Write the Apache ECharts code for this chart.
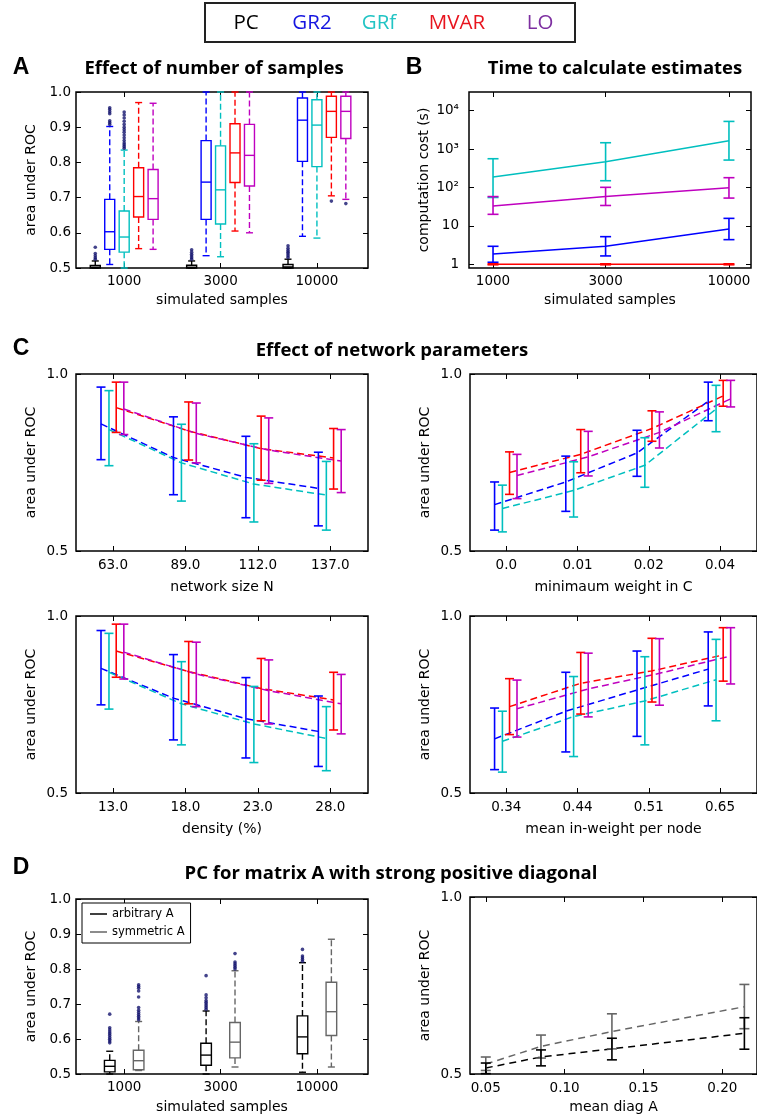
<!DOCTYPE html>
<html><head><meta charset="utf-8">
<script src="https://cdn.jsdelivr.net/npm/echarts@6/dist/echarts.min.js"></script>
<style>html,body{margin:0;padding:0;background:#fff}#c{width:757px;height:1120px}</style>
</head><body><div id="c"></div>
<script>
// ---------------- DATA ----------------
const methods = ['PC', 'GR2', 'GRf', 'MVAR', 'LO'];
const sampleLabels = ['1000', '3000', '10000'];

// Panel A: per sample size [low whisker, Q1, median, Q3, high whisker]
const aPC   = [[0.5, 0.5, 0.502, 0.507, 0.52], [0.5, 0.5, 0.502, 0.508, 0.52], [0.5, 0.5, 0.503, 0.51, 0.525]];
const aGR2  = [[0.51, 0.553, 0.603, 0.695, 0.902], [0.535, 0.638, 0.744, 0.862, 1.0], [0.59, 0.803, 0.92, 0.983, 1.0]];
const aGRf  = [[0.5, 0.545, 0.588, 0.662, 0.835], [0.532, 0.625, 0.722, 0.847, 1.0], [0.585, 0.788, 0.906, 0.978, 1.0]];
const aMVAR = [[0.555, 0.645, 0.703, 0.785, 0.97], [0.605, 0.743, 0.827, 0.91, 1.0], [0.705, 0.871, 0.945, 0.988, 1.0]];
const aLO   = [[0.553, 0.638, 0.697, 0.78, 0.968], [0.6, 0.733, 0.82, 0.908, 1.0], [0.695, 0.868, 0.945, 0.988, 1.0]];
// Panel A outliers per sample size
const aPCOut   = [[0.525, 0.529, 0.535, 0.541, 0.559], [0.525, 0.529, 0.534, 0.539, 0.545, 0.552], [0.53, 0.535, 0.54, 0.545, 0.55, 0.556, 0.563]];
const aGR2Out  = [[0.908, 0.913, 0.918, 0.938, 0.944, 0.95, 0.955], [], []];
const aGRfOut  = [[0.84, 0.845, 0.85, 0.855, 0.862, 0.87, 0.878, 0.886, 0.893, 0.9, 0.908, 0.917, 0.926, 0.935, 0.943], [], []];
const aMVAROut = [[], [], [0.69]];
const aLOOut   = [[], [], [0.683]];

// Panel B: computation cost (s)
const bSamples = [1000, 3000, 10000];
const bGR2  = [[1.86, 2.94, 8.3], [1.13, 1.65, 4.38], [2.94, 5.24, 15.7]];     // [mean, low, high]
const bGRf  = [[187, 469, 1650], [55, 150, 518], [561, 1465, 5260]];
const bMVAR = [[1.0, 1.0, 1.0], [0.97, 0.97, 0.97], [1.03, 1.03, 1.03]];
const bLO   = [[33, 58, 99], [20, 34, 53], [58, 101, 180]];
const bTicks = [1, 10, 100, 1000, 10000];

// Panel C: [mean, low, high] for each of 4 parameter values
const cSizeLabels = ['63.0', '89.0', '112.0', '137.0'];
const c1GR2  = [[0.859, 0.764, 0.708, 0.677], [0.758, 0.659, 0.594, 0.571], [0.963, 0.879, 0.824, 0.779]];
const c1GRf  = [[0.843, 0.749, 0.689, 0.658], [0.741, 0.641, 0.582, 0.559], [0.953, 0.858, 0.803, 0.753]];
const c1MVAR = [[0.905, 0.839, 0.789, 0.763], [0.835, 0.757, 0.70, 0.675], [0.977, 0.921, 0.881, 0.846]];
const c1LO   = [[0.901, 0.832, 0.785, 0.754], [0.829, 0.749, 0.691, 0.665], [0.977, 0.918, 0.876, 0.843]];

const cWeightLabels = ['0.0', '0.01', '0.02', '0.04'];
const c2GR2  = [[0.631, 0.695, 0.777, 0.923], [0.559, 0.612, 0.711, 0.868], [0.695, 0.768, 0.841, 0.977]];
const c2GRf  = [[0.620, 0.671, 0.742, 0.901], [0.554, 0.596, 0.68, 0.837], [0.686, 0.752, 0.82, 0.968]];
const c2MVAR = [[0.722, 0.773, 0.846, 0.938], [0.66, 0.721, 0.81, 0.909], [0.78, 0.843, 0.896, 0.982]];
const c2LO   = [[0.713, 0.766, 0.835, 0.930], [0.648, 0.712, 0.791, 0.907], [0.773, 0.838, 0.893, 0.982]];

const cDensityLabels = ['13.0', '18.0', '23.0', '28.0'];
const c3GR2  = [[0.852, 0.768, 0.71, 0.674], [0.749, 0.65, 0.599, 0.575], [0.959, 0.891, 0.826, 0.774]];
const c3GRf  = [[0.841, 0.752, 0.695, 0.654], [0.737, 0.636, 0.586, 0.563], [0.951, 0.871, 0.801, 0.744]];
const c3MVAR = [[0.901, 0.843, 0.795, 0.763], [0.827, 0.752, 0.704, 0.678], [0.977, 0.928, 0.88, 0.841]];
const c3LO   = [[0.898, 0.836, 0.789, 0.752], [0.822, 0.744, 0.695, 0.667], [0.977, 0.926, 0.876, 0.835]];

const cInWeightLabels = ['0.34', '0.44', '0.51', '0.65'];
const c4GR2  = [[0.653, 0.731, 0.791, 0.85], [0.566, 0.616, 0.66, 0.746], [0.74, 0.841, 0.901, 0.955]];
const c4GRf  = [[0.646, 0.716, 0.76, 0.82], [0.559, 0.603, 0.636, 0.704], [0.731, 0.829, 0.885, 0.934]];
const c4MVAR = [[0.744, 0.81, 0.845, 0.89], [0.665, 0.723, 0.757, 0.816], [0.823, 0.897, 0.937, 0.967]];
const c4LO   = [[0.738, 0.794, 0.838, 0.887], [0.658, 0.715, 0.748, 0.808], [0.819, 0.895, 0.936, 0.967]];

// Panel D left: PC boxplots, [low, Q1, median, Q3, high]
const dArbitrary = [[0.5, 0.506, 0.522, 0.539, 0.565], [0.5, 0.525, 0.554, 0.588, 0.68], [0.505, 0.558, 0.606, 0.666, 0.818]];
const dSymmetric = [[0.51, 0.512, 0.538, 0.568, 0.65], [0.52, 0.546, 0.591, 0.647, 0.795], [0.52, 0.61, 0.678, 0.762, 0.885]];
const dArbitraryOut = [[0.589, 0.594, 0.599, 0.604, 0.61, 0.615, 0.62, 0.626, 0.632, 0.671], [0.685, 0.69, 0.695, 0.70, 0.705, 0.71, 0.718, 0.726, 0.781], [0.822, 0.827, 0.832, 0.837, 0.856]];
const dSymmetricOut = [[0.655, 0.66, 0.665, 0.67, 0.676, 0.682, 0.69, 0.72, 0.737, 0.745, 0.75, 0.755], [0.80, 0.805, 0.81, 0.815, 0.82, 0.844], []];
// Panel D right: mean diag A vs AUC [mean, low, high]
const dDiag = [0.05, 0.085, 0.13, 0.214];
const dDiagTicks = [0.05, 0.10, 0.15, 0.20];
const d2Arbitrary = [[0.517, 0.548, 0.571, 0.615], [0.501, 0.523, 0.54, 0.57], [0.531, 0.568, 0.601, 0.659]];
const d2Symmetric = [[0.528, 0.578, 0.62, 0.69], [0.51, 0.545, 0.571, 0.628], [0.548, 0.61, 0.67, 0.753]];

// ---------------- STYLE ----------------
const COL = { PC: '#000000', GR2: '#0000ff', GRf: '#00bfbf', MVAR: '#ff0000', LO: '#bf00bf' };
const LEGCOL = { PC: '#000000', GR2: '#1515e0', GRf: '#22c4c4', MVAR: '#e8141e', LO: '#7d2fa0' };
const GRAY = '#666666';
const FLIER = '#14146e';
const AXF = 'DejaVu Sans';

const grid = [], xAxis = [], yAxis = [], series = [];

function tick(cv) {
  const t = { show: true, inside: true, length: 5, lineStyle: { color: '#000', width: 1 } };
  if (cv) t.customValues = cv;
  return t;
}
function axisPair(list, gi, o, isX) {
  const base = { gridIndex: gi, type: o.type || 'value', min: o.min, max: o.max, splitLine: { show: false },
    axisLine: { show: false }, scale: true };
  if (o.type === 'log') base.logBase = 10;
  if (o.interval != null) base.interval = o.interval;
  const lab = { show: true, color: '#000', fontFamily: AXF, fontSize: 13.5, margin: o.margin, formatter: o.fmt };
  if (o.ticks) lab.customValues = o.ticks;
  list.push(Object.assign({}, base, {
    position: isX ? 'bottom' : 'left', axisTick: tick(o.ticks), axisLabel: lab,
    name: o.name, nameLocation: 'middle', nameGap: o.gap,
    nameTextStyle: { color: '#000', fontFamily: AXF, fontSize: 14 }
  }));
  list.push(Object.assign({}, base, { position: isX ? 'top' : 'right', axisTick: tick(o.ticks), axisLabel: { show: false } }));
  return list.length - 2;
}
function panel(box, xo, yo) {
  const gi = grid.length;
  grid.push({ left: box[0], top: box[1], width: box[2], height: box[3], show: true,
    borderColor: '#000', borderWidth: 1.5, backgroundColor: 'rgba(0,0,0,0)' });
  return { xi: axisPair(xAxis, gi, xo, true), yi: axisPair(yAxis, gi, yo, false) };
}

function boxSeries(ax, name, color, rows, off, hw, cw) {
  return {
    type: 'custom', name: name, xAxisIndex: ax.xi, yAxisIndex: ax.yi, silent: true,
    itemStyle: { color: color }, encode: { x: 0, y: [1, 2, 3, 4, 5] },
    data: rows.map((r, i) => [i + 1 + off].concat(r)),
    renderItem: (p, api) => {
      const x = api.value(0);
      const pt = k => api.coord([x, api.value(k)]);
      const lo = pt(1), q1 = pt(2), md = pt(3), q3 = pt(4), hi = pt(5);
      const cx = lo[0];
      const s = { stroke: color, lineWidth: 1.4, fill: null };
      const d = { stroke: color, lineWidth: 1.4, lineDash: [6, 3] };
      return { type: 'group', children: [
        { type: 'line', shape: { x1: cx, y1: q3[1], x2: cx, y2: hi[1] }, style: d },
        { type: 'line', shape: { x1: cx, y1: q1[1], x2: cx, y2: lo[1] }, style: d },
        { type: 'line', shape: { x1: cx - cw, y1: hi[1], x2: cx + cw, y2: hi[1] }, style: s },
        { type: 'line', shape: { x1: cx - cw, y1: lo[1], x2: cx + cw, y2: lo[1] }, style: s },
        { type: 'rect', shape: { x: cx - hw, y: q3[1], width: 2 * hw, height: q1[1] - q3[1] }, style: { stroke: color, lineWidth: 1.4, fill: 'none' } },
        { type: 'line', shape: { x1: cx - hw, y1: md[1], x2: cx + hw, y2: md[1] }, style: s }
      ] };
    }
  };
}
function flierSeries(ax, outs, off) {
  const data = [];
  outs.forEach((arr, i) => arr.forEach(v => data.push([i + 1 + off, v])));
  return { type: 'scatter', xAxisIndex: ax.xi, yAxisIndex: ax.yi, data: data, symbol: 'circle', symbolSize: 3.6,
    itemStyle: { color: FLIER }, silent: true, z: 5 };
}
function errSeries(ax, color, xs, lows, highs, cw) {
  return {
    type: 'custom', xAxisIndex: ax.xi, yAxisIndex: ax.yi, silent: true, z: 4,
    encode: { x: 0, y: [1, 2] },
    data: xs.map((x, i) => [x, lows[i], highs[i]]),
    renderItem: (p, api) => {
      const x = api.value(0);
      const a = api.coord([x, api.value(1)]), b = api.coord([x, api.value(2)]);
      const s = { stroke: color, lineWidth: 1.6, fill: null };
      return { type: 'group', children: [
        { type: 'line', shape: { x1: a[0], y1: a[1], x2: b[0], y2: b[1] }, style: s },
        { type: 'line', shape: { x1: a[0] - cw, y1: a[1], x2: a[0] + cw, y2: a[1] }, style: s },
        { type: 'line', shape: { x1: b[0] - cw, y1: b[1], x2: b[0] + cw, y2: b[1] }, style: s }
      ] };
    }
  };
}
function lineSeries(ax, color, xs, vals, dash) {
  return { type: 'line', xAxisIndex: ax.xi, yAxisIndex: ax.yi, data: xs.map((x, i) => [x, vals[i]]),
    symbol: 'none', showSymbol: false, silent: true, z: 3,
    lineStyle: { color: color, width: 1.5, type: dash || 'solid' } };
}

// ---------------- PANEL A ----------------
const catFmt = labels => (v => labels[Math.round(v) - 1] || '');
const pA = panel([76, 92, 292, 176],
  { min: 0.5, max: 3.53, ticks: [1, 2, 3], fmt: catFmt(sampleLabels), margin: 6, name: 'simulated samples', gap: 25 },
  { min: 0.5, max: 1.0, interval: 0.1, fmt: v => v.toFixed(1), margin: 5, name: 'area under ROC', gap: 38 });
const aOffsets = [-0.3, -0.15, 0, 0.15, 0.3];
const aBoxes = [aPC, aGR2, aGRf, aMVAR, aLO];
const aOuts = [aPCOut, aGR2Out, aGRfOut, aMVAROut, aLOOut];
methods.forEach((m, k) => {
  series.push(boxSeries(pA, m, COL[m], aBoxes[k], aOffsets[k], 5, 3.5));
  series.push(flierSeries(pA, aOuts[k], aOffsets[k]));
});

// ---------------- PANEL B ----------------
const sup = { 2: '\u00b2', 3: '\u00b3', 4: '\u2074' };
const pB = panel([469, 92, 282, 176],
  { type: 'log', min: 791, max: 12400, ticks: bSamples, fmt: v => String(Math.round(v)), margin: 6, name: 'simulated samples', gap: 25 },
  { type: 'log', min: 0.8, max: 30700, ticks: bTicks, fmt: v => { const e = Math.round(Math.log10(v)); return e < 2 ? String(Math.round(v)) : '10' + sup[e]; }, margin: 10, name: 'computation cost (s)', gap: 38 });
[['GRf', bGRf], ['LO', bLO], ['GR2', bGR2], ['MVAR', bMVAR]].forEach(([m, d]) => {
  series.push(lineSeries(pB, COL[m], bSamples, d[0]));
  series.push(errSeries(pB, COL[m], bSamples, d[1], d[2], 5.5));
});

// ---------------- PANEL C ----------------
const cOffsets = { GR2: -0.165, GRf: -0.055, MVAR: 0.045, LO: 0.15 };
const cY = { min: 0.5, max: 1.0, interval: 0.5, fmt: v => v.toFixed(1), margin: 8, name: 'area under ROC', gap: 38 };
function cPanel(box, labels, xname, sets) {
  const ax = panel(box, { min: 0.49, max: 4.52, ticks: [1, 2, 3, 4], fmt: catFmt(labels), margin: 7, name: xname, gap: 29 }, cY);
  sets.forEach(([m, d]) => {
    const xs = [1, 2, 3, 4].map(g => g + cOffsets[m]);
    series.push(lineSeries(ax, COL[m], xs, d[0], [7, 4]));
    series.push(errSeries(ax, COL[m], xs, d[1], d[2], 4.5));
  });
}
cPanel([76, 374, 292, 177], cSizeLabels, 'network size N', [['GR2', c1GR2], ['GRf', c1GRf], ['MVAR', c1MVAR], ['LO', c1LO]]);
cPanel([470, 374, 292, 177], cWeightLabels, 'minimaum weight in C', [['GR2', c2GR2], ['GRf', c2GRf], ['MVAR', c2MVAR], ['LO', c2LO]]);
cPanel([76, 616, 292, 177], cDensityLabels, 'density (%)', [['GR2', c3GR2], ['GRf', c3GRf], ['MVAR', c3MVAR], ['LO', c3LO]]);
cPanel([470, 616, 292, 177], cInWeightLabels, 'mean in-weight per node', [['GR2', c4GR2], ['GRf', c4GRf], ['MVAR', c4MVAR], ['LO', c4LO]]);

// ---------------- PANEL D ----------------
const pD1 = panel([76, 899, 292, 175],
  { min: 0.5, max: 3.53, ticks: [1, 2, 3], fmt: catFmt(sampleLabels), margin: 6, name: 'simulated samples', gap: 26 },
  { min: 0.5, max: 1.0, interval: 0.1, fmt: v => v.toFixed(1), margin: 5, name: 'area under ROC', gap: 38 });
series.push(boxSeries(pD1, 'arbitrary A', '#000000', dArbitrary, -0.15, 5.3, 3.5));
series.push(flierSeries(pD1, dArbitraryOut, -0.15));
series.push(boxSeries(pD1, 'symmetric A', GRAY, dSymmetric, 0.15, 5.3, 3.5));
series.push(flierSeries(pD1, dSymmetricOut, 0.15));

const pD2 = panel([470, 897, 292, 177],
  { min: 0.04, max: 0.222, ticks: dDiagTicks, fmt: v => v.toFixed(2), margin: 7, name: 'mean diag A', gap: 26 },
  { min: 0.5, max: 1.0, interval: 0.5, fmt: v => v.toFixed(1), margin: 8, name: 'area under ROC', gap: 38 });
series.push(lineSeries(pD2, GRAY, dDiag, d2Symmetric[0], [7, 5]));
series.push(errSeries(pD2, GRAY, dDiag, d2Symmetric[1], d2Symmetric[2], 5));
series.push(lineSeries(pD2, '#000000', dDiag, d2Arbitrary[0], [7, 5]));
series.push(errSeries(pD2, '#000000', dDiag, d2Arbitrary[1], d2Arbitrary[2], 5));

// ---------------- TEXT ----------------
const TF = '"Open Sans", "Liberation Sans", sans-serif';
function txt(t, x, y, font, fill) {
  return { type: 'text', x: x, y: y, silent: true, style: { text: t, font: font, fill: fill || '#000', align: 'center', verticalAlign: 'middle' } };
}
const legendX = [246, 312, 379, 457, 540];
const graphic = [
  { type: 'rect', silent: true, shape: { x: 205, y: 3, width: 370, height: 39 }, style: { fill: 'none', stroke: '#222', lineWidth: 2 } }
];
methods.forEach((m, i) => graphic.push(txt(m, legendX[i], 23, '20.5px ' + TF, LEGCOL[m])));
[['A', 21, 68], ['B', 414, 68], ['C', 21, 349], ['D', 21, 868]].forEach(([t, x, y]) => graphic.push(txt(t, x, y, 'bold 23px "Liberation Sans", Arial, sans-serif')));
[['Effect of number of samples', 214, 69], ['Time to calculate estimates', 615, 69],
 ['Effect of network parameters', 392, 351], ['PC for matrix A with strong positive diagonal', 391, 874]]
  .forEach(([t, x, y]) => graphic.push(txt(t, x, y, 'bold 18.5px ' + TF)));

const chart = echarts.init(document.getElementById('c'), null, { renderer: 'canvas' });
chart.setOption({
  animation: false,
  backgroundColor: '#fff',
  grid: grid, xAxis: xAxis, yAxis: yAxis, series: series, graphic: graphic,
  legend: [{
    data: ['arbitrary A', 'symmetric A'], left: 82, top: 903, orient: 'vertical', icon: 'rect',
    itemWidth: 17, itemHeight: 1.5, itemGap: 6, padding: [5, 6, 5, 8], borderColor: '#000', borderWidth: 1,
    backgroundColor: '#fff', selectedMode: false, textStyle: { fontFamily: AXF, fontSize: 11.5, color: '#000' }
  }]
});
</script></body></html>
